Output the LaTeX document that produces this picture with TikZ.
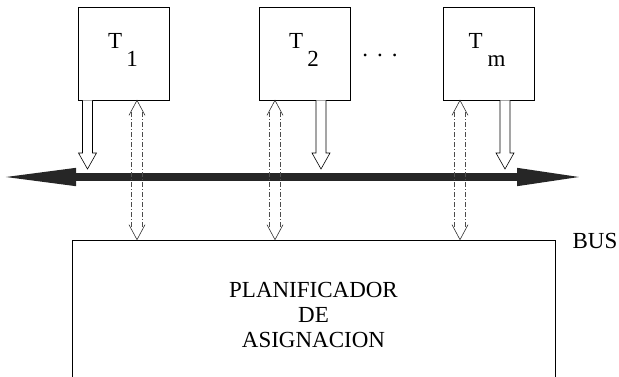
\documentclass[tikz,border=0pt]{standalone}
\usepackage{fontspec}
\setmainfont{Liberation Serif}
\usetikzlibrary{arrows.meta,calc}

\tikzset{
  task/.style={draw, line width=0.6pt, minimum width=91pt, minimum height=93pt, inner sep=0pt},
  lbl/.style={font=\fontsize{23}{25}\selectfont, align=center, inner sep=0pt},
  dashdot/.style={line width=0.5pt, black!70, dash pattern=on 5pt off 2pt on 1pt off 2pt},
  hollow/.style={line width=0.6pt, fill=white},
  vhead/.style={line width=0.6pt, black!80},
  bus/.style={line width=7.5pt, black!85,
    {Triangle[length=78pt,width=16pt]}-{Triangle[length=69pt,width=16pt]}}
}

% hollow arrow pointing down from #1 to #2
\newcommand{\outarrow}[2]{%
  \draw[hollow] ($(#1)+(-5,0)$) -- ($(#2)+(-5,-16)$) -- ($(#2)+(-9,-16)$) -- (#2)
    -- ($(#2)+(9,-16)$) -- ($(#2)+(5,-16)$) -- ($(#1)+(5,0)$);}

% dashed double arrow with open heads between #1 and #2
\newcommand{\biarrow}[2]{%
  \draw[dashdot] ($(#1)+(-5.5,12)$) -- ($(#2)+(-5.5,-12)$);
  \draw[dashdot] ($(#1)+(5.5,12)$) -- ($(#2)+(5.5,-12)$);
  \draw[vhead] ($(#1)+(-8,15)$) -- (#1) -- ($(#1)+(8,15)$);
  \draw[vhead] ($(#2)+(-8,-15)$) -- (#2) -- ($(#2)+(8,-15)$);}

\begin{document}
\begin{tikzpicture}[x=1pt,y=-1pt]
  \useasboundingbox (0,0) rectangle (619,376);

  \node[task] (T1) at (124,53.5) {};
  \node[task] (T2) at (304.5,53.5) {};
  \node[task] (Tm) at (489,53.5) {};
  \node[lbl, anchor=base] (t1) at (123,48) {T\hspace{4pt}\raisebox{-18pt}{1}};
  \node[lbl, anchor=base] (t2) at (304,48) {T\hspace{4pt}\raisebox{-18pt}{2}};
  \node[lbl, anchor=base] (tm) at (487,48) {T\hspace{5pt}\raisebox{-18pt}{m}};
  \node[lbl, anchor=base] (dots) at (380,56) {.\hspace{9pt}.\hspace{9pt}.};

  \node[task, minimum width=483pt, minimum height=150pt, lbl] (plan) at (313.5,315)
    {PLANIFICADOR\\DE\\ASIGNACION};
  \node[lbl] (busname) at (595,241) {BUS};

  % the bus
  \coordinate (busW) at (-2,177);
  \coordinate (busE) at (586,177);
  \coordinate (busN) at (0,169);
  \draw[bus] (busW) -- (busE);

  \coordinate (o1) at ($(T1.south)+(-36.5,0)$);
  \coordinate (o2) at ($(T2.south)+(16.5,0)$);
  \coordinate (om) at ($(Tm.south)+(16,0)$);
  \outarrow{o1}{o1 |- busN}
  \outarrow{o2}{o2 |- busN}
  \outarrow{om}{om |- busN}

  \coordinate (b1) at ($(T1.south)+(13,0)$);
  \coordinate (b2) at ($(T2.south)+(-29.5,0)$);
  \coordinate (bm) at ($(Tm.south)+(-29,0)$);
  \biarrow{b1}{b1 |- plan.north}
  \biarrow{b2}{b2 |- plan.north}
  \biarrow{bm}{bm |- plan.north}
\end{tikzpicture}
\end{document}
